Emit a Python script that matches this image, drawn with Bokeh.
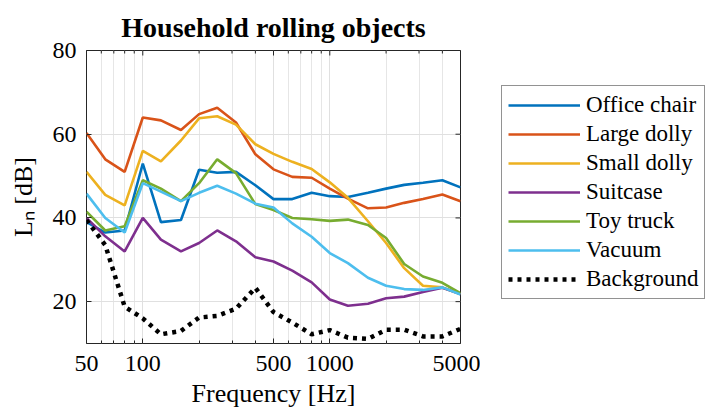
from math import pi
from bokeh.plotting import figure
from bokeh.layouts import row
from bokeh.models import FixedTicker, Legend, LegendItem, Range1d
from bokeh.embed import file_html
from bokeh.resources import INLINE

freqs = [50, 63, 80, 100, 125, 160, 200, 250, 315, 400, 500, 630, 800, 1000,
         1250, 1600, 2000, 2500, 3150, 4000, 5000]
office_chair = [39, 36.5, 37, 53, 39, 39.5, 51.5, 50.8, 51, 47.8, 44.5, 44.5, 46, 45.2,
                45, 46, 47, 47.9, 48.4, 49, 47.3]
large_dolly = [60.3, 54, 51, 64, 63.3, 61, 64.8, 66.3, 62.8, 55.2, 51.6, 49.8, 49.6, 47,
               44.6, 42.3, 42.5, 43.6, 44.5, 45.6, 44]
small_dolly = [51, 45.5, 43, 56, 53.5, 58.5, 63.8, 64.3, 62.3, 57.6, 55.3, 53.4, 51.7, 48.5,
               44.8, 39.2, 34, 28, 23.8, 23.4, 21.8]
suitcase = [40, 35.6, 32, 40, 34.8, 32, 34, 37, 34.4, 30.6, 29.6, 27.4, 24.6, 20.5,
            19, 19.5, 20.8, 21.2, 22.3, 23.3, 21.8]
toy_truck = [41.5, 37, 38, 49, 47, 44, 48.3, 54, 50.7, 43.3, 41.9, 40, 39.7, 39.3,
             39.6, 38.3, 35.2, 29, 26, 24.5, 22]
vacuum = [45.8, 40, 36.5, 48.3, 46.3, 44, 46, 47.7, 45.8, 43.4, 42.5, 38.7, 35.5, 31.6,
          29.2, 25.7, 23.8, 23, 22.8, 23.4, 21.7]
background = [39.5, 33.5, 18.8, 16, 12.2, 13, 16.2, 16.6, 18.3, 23.3, 17.5, 15, 12.2, 13.2,
              11.4, 11.1, 13.3, 13.3, 11.7, 11.7, 13.5]

x_major = [50, 100, 500, 1000, 5000]
x_minor = [60, 70, 80, 90, 200, 300, 400, 600, 700, 800, 900, 2000, 3000, 4000]
y_major = [20, 40, 60, 80]
x_min, x_max = 50, 5000
y_min, y_max = 10, 80

series = [
    ("Office chair", office_chair, "#0072BD"),
    ("Large dolly", large_dolly, "#D95319"),
    ("Small dolly", small_dolly, "#EDB120"),
    ("Suitcase", suitcase, "#7E2F8E"),
    ("Toy truck", toy_truck, "#77AC30"),
    ("Vacuum", vacuum, "#4DBEEE"),
    ("Background", background, "black"),
]

FONT = "Liberation Serif"
DARK = "#262626"


def style_line(name, color):
    if name == "Background":
        return dict(line_color=color, line_width=4.5, line_dash="4 5")
    return dict(line_color=color, line_width=2.6)


p = figure(width=480, height=417, x_axis_type="log",
           x_range=Range1d(x_min, x_max), y_range=Range1d(y_min, y_max),
           output_backend="svg", toolbar_location=None,
           min_border_left=86, min_border_right=20, min_border_top=50, min_border_bottom=74,
           title="Household rolling objects")

p.title.text_font = FONT
p.title.text_font_size = "28px"
p.title.text_font_style = "bold"
p.title.align = "center"
p.title.text_color = "black"
p.title.offset = -6
p.title.standoff = 15

p.outline_line_color = DARK
p.outline_line_width = 1
p.outline_line_alpha = 1

xt = FixedTicker(ticks=x_major, minor_ticks=x_minor)
yt = FixedTicker(ticks=y_major)
p.xaxis.ticker = xt
p.yaxis.ticker = yt
p.xaxis.major_label_overrides = {v: str(v) for v in x_major}

for ax in (p.xaxis[0], p.yaxis[0]):
    ax.major_label_text_font = FONT
    ax.major_label_text_font_size = "24px"
    ax.major_label_text_color = "black"
    ax.axis_label_text_font = FONT
    ax.axis_label_text_font_size = "26px"
    ax.axis_label_text_font_style = "normal"
    ax.axis_label_text_color = "black"
    ax.axis_line_color = None
    ax.major_tick_in = 5
    ax.major_tick_out = 0
    ax.minor_tick_in = 3
    ax.minor_tick_out = 0
    ax.major_tick_line_color = DARK
    ax.minor_tick_line_color = DARK

p.xaxis.axis_label = "Frequency [Hz]"
p.yaxis.axis_label = "Lₙ [dB]"
p.xaxis.major_label_standoff = 12
p.xaxis.axis_label_standoff = 5
p.yaxis.major_label_standoff = 10
p.yaxis.axis_label_standoff = 12
p.yaxis.minor_tick_line_color = None

p.xgrid.ticker = xt
p.ygrid.ticker = yt
p.xgrid.grid_line_color = "#e0e0e0"
p.xgrid.minor_grid_line_color = "#e6e6e6"
p.ygrid.grid_line_color = "#e0e0e0"

# box ticks on top and right edges (half of each marker is clipped by the frame)
p.scatter(x=x_major, y=[y_max] * len(x_major), marker="dash", angle=pi / 2,
          size=10, line_color=DARK, line_width=1)
p.scatter(x=x_minor, y=[y_max] * len(x_minor), marker="dash", angle=pi / 2,
          size=6, line_color=DARK, line_width=1)
p.scatter(x=[x_max] * len(y_major), y=y_major, marker="dash",
          size=10, line_color=DARK, line_width=1)

for name, vals, color in series:
    p.line(freqs, vals, **style_line(name, color))

# legend panel: a second, axis-less figure holding only the legend.
# Its ranges keep the (duplicate) lines out of view so only the legend shows.
q = figure(width=232, height=417, output_backend="svg", toolbar_location=None,
           x_range=Range1d(0, 1), y_range=Range1d(0, 1),
           x_axis_location=None, y_axis_location=None,
           min_border_left=0, min_border_right=0, min_border_top=0, min_border_bottom=0)
q.outline_line_color = None
q.xgrid.visible = False
q.ygrid.visible = False

items = []
for name, vals, color in series:
    r = q.line(freqs, vals, **style_line(name, color))
    items.append(LegendItem(label=name, renderers=[r]))

legend = Legend(items=items, location=(21, 44))
legend.label_text_font = FONT
legend.label_text_font_size = "23px"
legend.label_text_color = "black"
legend.glyph_width = 72
legend.glyph_height = 22
legend.label_height = 22
legend.label_standoff = 6
legend.spacing = 3
legend.padding = 6
legend.margin = 0
legend.border_line_color = DARK
legend.border_line_width = 1
legend.background_fill_alpha = 1
q.add_layout(legend, "center")

layout = row(p, q)
open("out.html", "w").write(file_html(layout, INLINE))
